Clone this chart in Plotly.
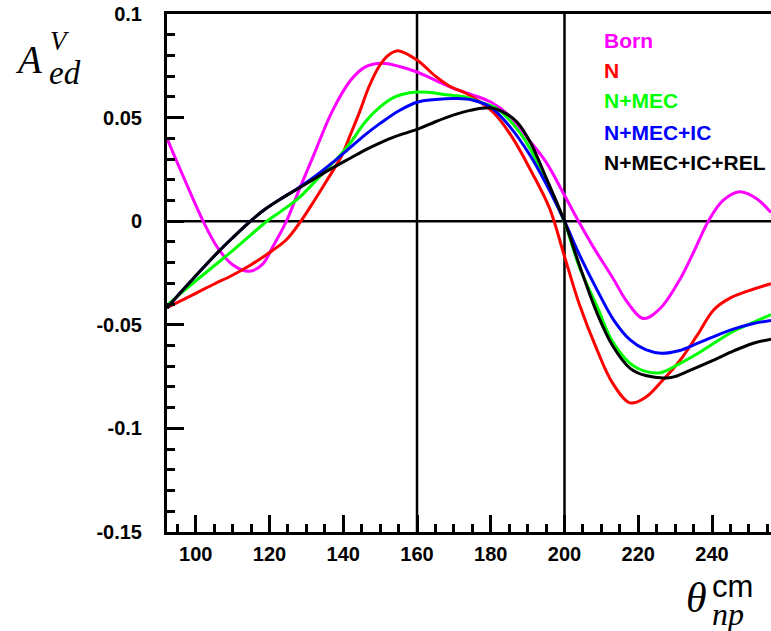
import plotly.graph_objects as go

# ---- data ----
born_x = [92.2, 97, 102, 106, 110, 114.5, 118, 121, 124.6, 128, 132, 137, 142, 146, 150.5, 155, 160, 165, 170, 175, 180, 185, 190, 195, 200, 203.8, 208, 213.3, 217, 221.5, 226, 231, 235, 239, 243, 247.5, 252, 256]
born_y = [0.040, 0.020, 0.0, -0.013, -0.021, -0.0242, -0.021, -0.012, 0.0, 0.015, 0.032, 0.053, 0.068, 0.0745, 0.0762, 0.0748, 0.072, 0.068, 0.064, 0.061, 0.0575, 0.051, 0.040, 0.0285, 0.0125, 0.0, -0.013, -0.028, -0.039, -0.047, -0.042, -0.029, -0.015, 0.0, 0.010, 0.0142, 0.011, 0.0042]

n_x = [92.2, 100, 105, 109.8, 115, 120.6, 124.7, 128.5, 132, 135.5, 139.6, 142, 144.6, 147, 150, 152.5, 155.1, 160, 165, 169, 173, 177, 181, 186, 191, 196, 200, 204, 208.8, 213, 217.8, 222, 226, 231.4, 236, 240.5, 245, 250, 256]
n_y = [-0.0417, -0.0348, -0.0303, -0.0262, -0.021, -0.0144, -0.0087, 0.0, 0.0095, 0.0195, 0.0317, 0.042, 0.0535, 0.065, 0.0755, 0.0805, 0.0822, 0.0778, 0.070, 0.065, 0.062, 0.0576, 0.052, 0.040, 0.024, 0.006, -0.017, -0.040, -0.062, -0.078, -0.0877, -0.085, -0.078, -0.067, -0.055, -0.0427, -0.037, -0.0335, -0.0302]

mec_x = [92.2, 100, 105, 110, 115, 119.3, 122.9, 127.8, 132, 136, 139.1, 142, 146, 150, 154, 158, 163, 168, 173, 177, 181.7, 186, 190.7, 195, 200, 204, 208.8, 213, 217.8, 222, 226, 231, 236, 240.5, 246, 251, 256]
mec_y = [-0.0405, -0.0288, -0.0215, -0.0142, -0.0065, 0.0, 0.0045, 0.011, 0.0185, 0.026, 0.0317, 0.038, 0.048, 0.0552, 0.060, 0.062, 0.0622, 0.061, 0.060, 0.0575, 0.0543, 0.047, 0.035, 0.019, -0.0005, -0.022, -0.041, -0.058, -0.0686, -0.0725, -0.0731, -0.069, -0.064, -0.0589, -0.053, -0.049, -0.0451]

ic_x = [92.2, 96, 100.7, 106.1, 110, 114.7, 118.5, 122.9, 127.8, 132, 136.9, 139.1, 142, 146, 150, 155, 160, 165, 170.8, 175, 179.9, 185, 190.7, 195, 200, 204, 208.8, 213.3, 217.8, 222, 226.2, 231, 236, 240.5, 246, 251, 256]
ic_y = [-0.0419, -0.0342, -0.0250, -0.0148, -0.0080, -0.0002, 0.0054, 0.0106, 0.0160, 0.0212, 0.0280, 0.0313, 0.0357, 0.0418, 0.0472, 0.0532, 0.0574, 0.0587, 0.0592, 0.0585, 0.0551, 0.046, 0.0317, 0.018, 0.0, -0.016, -0.033, -0.0476, -0.0573, -0.062, -0.0637, -0.0625, -0.059, -0.0557, -0.052, -0.0495, -0.0479]

rel_x = [92.2, 96, 100.7, 106.1, 110, 114.7, 118.5, 122.9, 128, 132, 136.4, 142, 146, 150, 154, 160, 165, 170, 174.4, 179.9, 183, 187.1, 190.7, 195, 200, 204, 208.8, 213, 217.8, 222, 228.9, 234, 240.5, 246, 251, 256]
rel_y = [-0.0419, -0.0342, -0.0250, -0.0148, -0.0080, -0.0002, 0.0054, 0.0106, 0.0160, 0.0203, 0.0250, 0.0305, 0.0344, 0.0378, 0.0408, 0.0443, 0.048, 0.0513, 0.0535, 0.0547, 0.053, 0.0479, 0.0382, 0.021, 0.0, -0.021, -0.0443, -0.060, -0.071, -0.0745, -0.0754, -0.072, -0.067, -0.0625, -0.059, -0.0569]

series_names = ["Born", "N", "N+MEC", "N+MEC+IC", "N+MEC+IC+REL"]
series_colors = ["#ff00ff", "#ff0000", "#00ff00", "#0000ff", "#000000"]
series_data = [(born_x, born_y), (n_x, n_y), (mec_x, mec_y), (ic_x, ic_y), (rel_x, rel_y)]

x_ticks = [100, 120, 140, 160, 180, 200, 220, 240]
y_ticks = [-0.15, -0.1, -0.05, 0, 0.05, 0.1]
y_ticklabels = ["-0.15", "-0.1", "-0.05", "0", "0.05", "0.1"]
x_range = [92.2, 256]
y_range = [-0.15, 0.1]

# ---- figure ----
W, H = 771, 631
L, R, T, B = 167, 0, 14, 99
pw, ph = W - L - R, H - T - B

def px2paper(px, py):
    return (px - L) / pw, (H - B - py) / ph

fig = go.Figure()
for (xs, ys), name, col in zip(series_data, series_names, series_colors):
    fig.add_trace(go.Scatter(x=xs, y=ys, mode="lines", name=name,
                             line=dict(color=col, width=3, shape="spline", smoothing=1.0),
                             showlegend=False, cliponaxis=True))

# reference lines
for xv in (160, 200):
    fig.add_shape(type="line", xref="x", yref="paper", x0=xv, x1=xv, y0=0, y1=1,
                  line=dict(color="black", width=2.5), layer="below")
fig.add_shape(type="line", xref="paper", yref="y", x0=0, x1=1, y0=0, y1=0,
              line=dict(color="black", width=2.5), layer="below")

# legend texts
legend_y_px = [40.7, 70.7, 100.7, 132.7, 162.7]
for name, col, py in zip(series_names, series_colors, legend_y_px):
    xp, yp = px2paper(602, py)
    fig.add_annotation(text=name, xref="paper", yref="paper", x=xp, y=yp,
                       xanchor="left", yanchor="middle", showarrow=False,
                       font=dict(family="Liberation Sans, Arial", size=21, color=col, weight="bold"))

serif = "Liberation Serif, DejaVu Serif"

def ann(text, px, py, size, family, italic=True, xanchor="left", yanchor="middle"):
    xp, yp = px2paper(px, py)
    fig.add_annotation(text=text, xref="paper", yref="paper", x=xp, y=yp,
                       xanchor=xanchor, yanchor=yanchor, showarrow=False,
                       font=dict(family=family, size=size, color="black",
                                 style="italic" if italic else "normal"))

# y-axis title A^V_ed
ann("A", 13, 59, 39, serif)
ann("V", 48, 41, 27, serif)
ann("ed", 47, 73, 33, serif)
# x-axis title theta^cm_np
ann("θ", 684, 598, 42, serif)
ann("cm", 710, 586, 31, "Liberation Sans, Arial", italic=False)
ann("np", 710, 614, 32, serif)

axis_font = dict(family="Liberation Sans, Arial", size=20, color="black", weight="bold")
fig.update_layout(
    width=W, height=H,
    margin=dict(l=L, r=R, t=T, b=B, pad=0),
    paper_bgcolor="white", plot_bgcolor="white",
    showlegend=False,
    xaxis=dict(range=x_range, tickvals=x_ticks, ticktext=[str(v) for v in x_ticks],
               ticks="inside", ticklen=17, tickwidth=2.5, tickcolor="black",
               showline=True, linecolor="black", linewidth=3, mirror=True,
               showgrid=False, zeroline=False, tickfont=axis_font, ticklabelstandoff=2,
               minor=dict(dtick=5, tick0=0, ticks="inside", ticklen=8, tickwidth=2.5,
                          tickcolor="black", showgrid=False)),
    yaxis=dict(range=y_range, tickvals=y_ticks, ticktext=y_ticklabels,
               ticks="inside", ticklen=17, tickwidth=2.5, tickcolor="black",
               showline=True, linecolor="black", linewidth=3, mirror=False,
               showgrid=False, zeroline=False, tickfont=axis_font, ticklabelstandoff=18,
               minor=dict(dtick=0.01, tick0=0, ticks="inside", ticklen=8, tickwidth=2.5,
                          tickcolor="black", showgrid=False)),
)

fig.write_html("out.html", config={"displayModeBar": False},
               post_script="document.body.style.margin='0';document.body.style.padding='0';")
